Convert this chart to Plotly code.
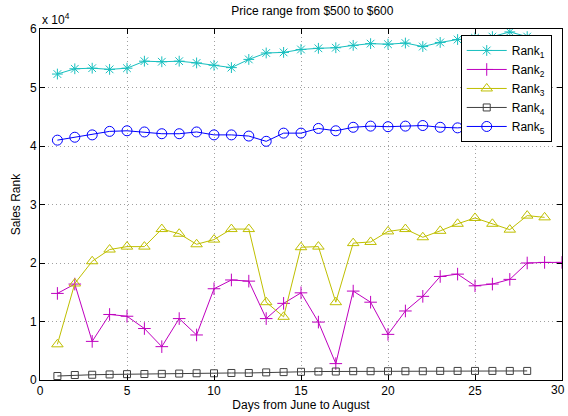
import plotly.graph_objects as go

days_r1 = list(range(1, 29))
rank1 = [52300, 53200, 53300, 53100, 53300, 54500, 54400, 54500, 54200, 53800,
         53400, 54800, 55900, 56000, 56500, 56700, 56800, 57200, 57500, 57400,
         57600, 57000, 57700, 58200, 58500, 58700, 59500, 58700]

days_r2 = list(range(1, 31))
rank2 = [14800, 16400, 6600, 11200, 10900, 8800, 5700, 10500, 7700, 15600,
         17100, 16900, 10500, 13100, 14900, 9900, 2800, 15200, 13300, 7800,
         11800, 14300, 17700, 18100, 16100, 16400, 17200, 20000, 20100, 20100]

days_r3 = list(range(1, 30))
rank3 = [6100, 16500, 20300, 22300, 22800, 22800, 25800, 25000, 23200, 24000,
         25800, 25800, 13300, 10800, 22700, 22800, 13300, 23400, 23600, 25400,
         25800, 24400, 25500, 26700, 27700, 26700, 25700, 28100, 27800]

days_r4 = list(range(1, 29))
rank4 = [680, 850, 900, 950, 1000, 1020, 1050, 1100, 1150, 1150,
         1200, 1200, 1300, 1350, 1400, 1450, 1450, 1500, 1500, 1500,
         1500, 1500, 1550, 1550, 1550, 1550, 1550, 1550]

days_r5 = list(range(1, 29))
rank5 = [41000, 41500, 41900, 42500, 42600, 42400, 42100, 42100, 42400, 41900,
         41900, 41700, 40800, 42200, 42200, 43000, 42600, 43200, 43400, 43300,
         43400, 43500, 43200, 43100, 43300, 43500, 43600, 43500]

y_ticks = [0, 10000, 20000, 30000, 40000, 50000, 60000]
y_tick_text = ["0", "1", "2", "3", "4", "5", "6"]
x_ticks = [0, 5, 10, 15, 20, 25, 30]
x_tick_text = ["0", "5", "10", "15", "20", "25", ""]  # last label placed by hand at the edge
x_last_label = "30"

series = [
    ("Rank<sub>1</sub>", days_r1, rank1, "#17BFBF", "asterisk-open", 9),
    ("Rank<sub>2</sub>", days_r2, rank2, "#BF00BF", "cross-thin-open", 9),
    ("Rank<sub>3</sub>", days_r3, rank3, "#BFBF00", "triangle-up-open", 10),
    ("Rank<sub>4</sub>", days_r4, rank4, "#404040", "square-open", 7),
    ("Rank<sub>5</sub>", days_r5, rank5, "#0000FF", "circle-open", 10),
]

fig = go.Figure()
for name, xs, ys, color, symbol, size in series:
    fig.add_trace(go.Scatter(
        x=xs, y=ys, name=name, mode="lines+markers",
        line=dict(color=color, width=1),
        marker=dict(symbol=symbol, size=size, color=color,
                    line=dict(color=color, width=1)),
    ))

axis_common = dict(
    showline=True, linecolor="black", linewidth=1, mirror="ticks",
    ticks="inside", ticklen=5, tickcolor="black",
    showgrid=True, gridcolor="#A0A0A0", griddash="1px,3px", gridwidth=1,
    zeroline=False, tickfont=dict(size=12, color="black"),
    ticklabeloverflow="allow", automargin=False,
)

fig.update_xaxes(range=[0, 30], tickvals=x_ticks, ticktext=x_tick_text,
                 title=dict(text="Days from June to August", font=dict(size=12, color="black"), standoff=2),
                 **axis_common)
fig.update_yaxes(range=[0, 60000], tickvals=y_ticks, ticktext=y_tick_text,
                 title=dict(text="Sales Rank", font=dict(size=12, color="black"), standoff=6),
                 **axis_common)

fig.add_annotation(text=x_last_label, xref="x", yref="paper",
                   x=x_ticks[-1], y=0, xanchor="right", yanchor="top",
                   xshift=5, yshift=-1, showarrow=False,
                   font=dict(size=12, color="black"))

fig.add_annotation(text="x 10<sup>4</sup>", xref="paper", yref="paper",
                   x=0, y=1.0, xanchor="left", yanchor="bottom", showarrow=False,
                   font=dict(size=12, color="black"))

fig.update_layout(
    width=568, height=416,
    margin=dict(l=40, r=6, t=29, b=36, autoexpand=False),
    paper_bgcolor="white", plot_bgcolor="white",
    font=dict(family="Liberation Sans, Arial, sans-serif", size=12, color="black"),
    title=dict(text="Price range from $500 to $600", x=0.55, xanchor="center",
               y=0.985, yanchor="top", font=dict(size=12, color="black")),
    legend=dict(x=0.806, y=0.983, xanchor="left", yanchor="top",
                bgcolor="white", bordercolor="black", borderwidth=1,
                font=dict(size=12, color="black"), tracegroupgap=0,
                itemwidth=40),
    showlegend=True,
)

fig.write_html("out.html")
